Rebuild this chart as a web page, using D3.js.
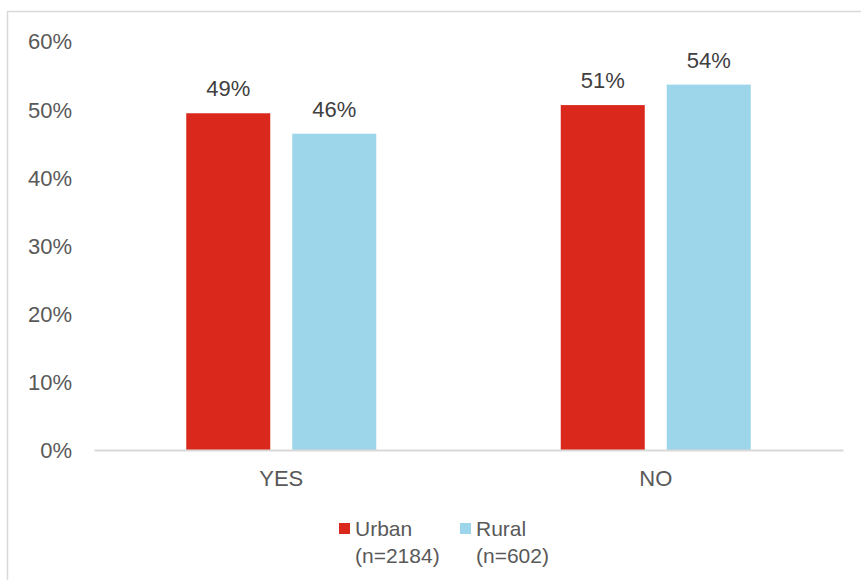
<!DOCTYPE html>
<html>
<head>
<meta charset="utf-8">
<script src="https://cdn.jsdelivr.net/npm/d3@7"></script>
<style>
  html, body { margin: 0; padding: 0; background: #fff; }
  svg { display: block; font-family: "Liberation Sans", Arial, sans-serif; }
</style>
</head>
<body>
<svg id="chart" width="861" height="580"></svg>
<script>
// Share of respondents answering YES / NO, by location
const categories = ["YES", "NO"];
const seriesNames = ["Urban", "Rural"];
const seriesSamples = ["(n=2184)", "(n=602)"];
const urbanValues = [0.494, 0.506];
const ruralValues = [0.464, 0.536];
const yTicks = [0, 0.1, 0.2, 0.3, 0.4, 0.5, 0.6];
const colors = ["#DA291C", "#9DD6EA"];

const svg = d3.select("#chart");
const margin = { left: 94, right: 18, top: 41, bottom: 130 };
const W = 861, H = 580;
const x0 = margin.left, x1 = W - margin.right;
const yBase = 450;

// outer frame (only top/left edges fall inside the canvas)
svg.append("rect")
  .attr("x", 7.5).attr("y", 11.5)
  .attr("width", W + 10).attr("height", H + 10)
  .attr("fill", "none").attr("stroke", "#D9D9D9").attr("stroke-width", 1.5);

const x = d3.scaleBand().domain(categories).range([x0, x1]).paddingInner(0).paddingOuter(0);
const y = d3.scaleLinear().domain([0, 0.6]).range([yBase, margin.top]);

const barW = 84, gap = 22;
const groupW = barW * 2 + gap;
const xs = d3.scaleBand().domain(seriesNames)
  .range([0, groupW]).paddingInner(gap / (barW + gap)).paddingOuter(0);

const data = categories.map((c, i) => ({
  cat: c,
  vals: [urbanValues[i], ruralValues[i]]
}));

// y-axis tick labels (no axis line, no gridlines)
const yAxis = d3.axisLeft(y).tickValues(yTicks).tickFormat(d3.format(".0%")).tickSize(0).tickPadding(0);
const gy = svg.append("g").attr("transform", `translate(72,0)`).call(yAxis);
gy.select(".domain").remove();
gy.selectAll("text")
  .attr("fill", "#595959").attr("font-size", "22px")
  .attr("font-family", "Liberation Sans, Arial, sans-serif")
  .attr("dy", "0.36em");

// bars
const groups = svg.append("g").selectAll("g").data(data).join("g")
  .attr("transform", d => `translate(${x(d.cat) + x.bandwidth() / 2 - groupW / 2},0)`);

groups.selectAll("rect").data(d => d.vals.map((v, j) => ({ v, s: seriesNames[j], j })))
  .join("rect")
  .attr("x", d => xs(d.s))
  .attr("width", xs.bandwidth())
  .attr("y", d => y(d.v))
  .attr("height", d => yBase - y(d.v))
  .attr("fill", d => colors[d.j]);

// value labels
groups.selectAll("text.val").data(d => d.vals.map((v, j) => ({ v, s: seriesNames[j] })))
  .join("text").attr("class", "val")
  .attr("x", d => xs(d.s) + xs.bandwidth() / 2)
  .attr("y", d => y(d.v) - 17)
  .attr("text-anchor", "middle")
  .attr("fill", "#404040").attr("font-size", "22px")
  .text(d => d3.format(".0%")(d.v));

// x axis line + category labels
const xAxis = d3.axisBottom(x).tickSize(0).tickPadding(0);
const gx = svg.append("g").attr("transform", `translate(0,${yBase})`).call(xAxis);
gx.select(".domain").attr("stroke", "#D9D9D9").attr("stroke-width", 2);
gx.selectAll("text")
  .attr("fill", "#595959").attr("font-size", "22px")
  .attr("font-family", "Liberation Sans, Arial, sans-serif")
  .attr("y", 36).attr("dy", 0);

// legend
const legendX = [339, 460];
const lg = svg.append("g").selectAll("g").data(seriesNames).join("g")
  .attr("transform", (d, i) => `translate(${legendX[i]},0)`);
lg.append("rect").attr("x", 0).attr("y", 523).attr("width", 11).attr("height", 11)
  .attr("fill", (d, i) => colors[i]);
const lt = lg.append("text").attr("fill", "#595959").attr("font-size", "21px");
lt.append("tspan").attr("x", 16).attr("y", 536).text(d => d);
lt.append("tspan").attr("x", 16).attr("y", 563).text((d, i) => seriesSamples[i]);
</script>
</body>
</html>
